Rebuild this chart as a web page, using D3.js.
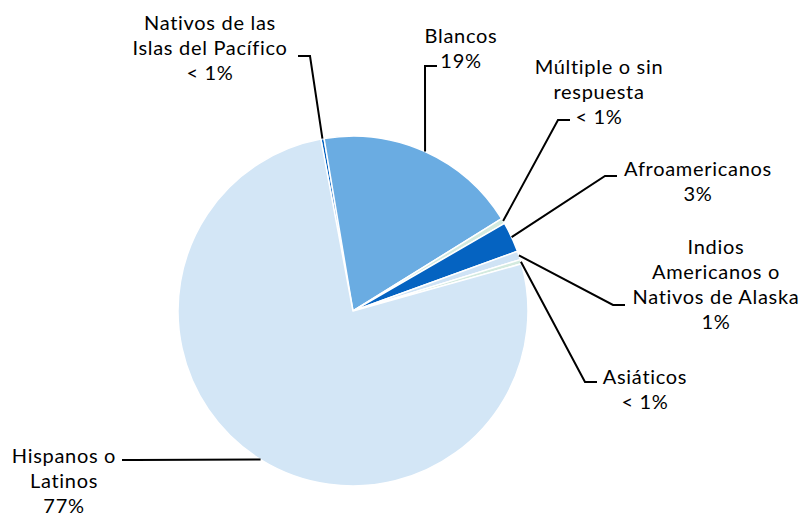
<!DOCTYPE html>
<html>
<head>
<meta charset="utf-8">
<script src="https://cdnjs.cloudflare.com/ajax/libs/d3/7.8.5/d3.min.js"></script>
<style>
    body { margin: 0; background: #fff; }
    text { font-family: Lato, "Open Sans", sans-serif; font-size: 20px; letter-spacing: 0.7px; fill: #000; }
</style>
</head>
<body>
<div id="chart"></div>
<script>
// Slices, clockwise from the thin one just left of 12 o'clock
var categories = ["Nativos de las Islas del Pacífico", "Blancos", "Múltiple o sin respuesta",
    "Afroamericanos", "Indios Americanos o Nativos de Alaska", "Asiáticos", "Hispanos o Latinos"];
var values = [0.3, 18.8, 0.5, 2.8, 0.8, 0.4, 76.4];
var percentLabels = ["< 1%", "19%", "< 1%", "3%", "1%", "< 1%", "77%"];
var labelLines = [
    ["Nativos de las", "Islas del Pacífico"],
    ["Blancos"],
    ["Múltiple o sin", "respuesta"],
    ["Afroamericanos"],
    ["Indios", "Americanos o", "Nativos de Alaska"],
    ["Asiáticos"],
    ["Hispanos o", "Latinos"]
];
var colors = ["#0563c1", "#6aace2", "#d3eadf", "#0563c1", "#cfe3f5", "#d3eadf", "#d3e6f6"];

// label placement: text centre x, first line y, leader tick (x1 -> x2, y)
var labelLayout = [
    { x: 210, y: 22, tick: [298, 310, 56] },
    { x: 461, y: 35, tick: [437, 425, 66] },
    { x: 599, y: 66, tick: [570, 558, 120] },
    { x: 698, y: 168, tick: [617, 605, 176] },
    { x: 716, y: 246, tick: [625, 613, 305] },
    { x: 645, y: 376, tick: [597, 585, 382] },
    { x: 64, y: 455, tick: [122, 134, 460] }
];

var width = 806, height = 517;
var cx = 353, cy = 311, radius = 175;
var lineGap = 25;
var startAngle = -10.6 * Math.PI / 180;

var svg = d3.select("#chart").append("svg")
    .attr("width", width)
    .attr("height", height);

var pie = d3.pie()
    .sort(null)
    .startAngle(startAngle)
    .endAngle(startAngle + 2 * Math.PI);

var arc = d3.arc().innerRadius(0).outerRadius(radius);
var arcs = pie(values);

var g = svg.append("g").attr("transform", "translate(" + cx + "," + cy + ")");

g.selectAll("path")
    .data(arcs)
    .enter()
    .append("path")
    .attr("d", arc)
    .attr("fill", function (d, i) { return colors[i]; })
    .attr("stroke", "#fff")
    .attr("stroke-width", 1.5)
    .attr("stroke-linejoin", "round");

// leader lines from the middle of each slice edge to the label tick
function edgePoint(d) {
    var a = (d.startAngle + d.endAngle) / 2;
    return [cx + radius * Math.sin(a), cy - radius * Math.cos(a)];
}

svg.selectAll("polyline.leader")
    .data(arcs)
    .enter()
    .append("polyline")
    .attr("class", "leader")
    .attr("fill", "none")
    .attr("stroke", "#000")
    .attr("stroke-width", 2)
    .attr("points", function (d, i) {
        var t = labelLayout[i].tick;
        var p = edgePoint(d);
        return [[t[0], t[2]], [t[1], t[2]], p].map(function (q) { return q.join(","); }).join(" ");
    });

// labels
var labels = svg.selectAll("text.label")
    .data(categories)
    .enter()
    .append("text")
    .attr("class", "label")
    .attr("text-anchor", "middle")
    .attr("dominant-baseline", "central");

labels.each(function (d, i) {
    var lines = labelLines[i].concat([percentLabels[i]]);
    var lay = labelLayout[i];
    d3.select(this).selectAll("tspan")
        .data(lines)
        .enter()
        .append("tspan")
        .attr("x", lay.x)
        .attr("y", function (l, j) { return lay.y + j * lineGap; })
        .text(function (l) { return l; });
});
</script>
</body>
</html>
